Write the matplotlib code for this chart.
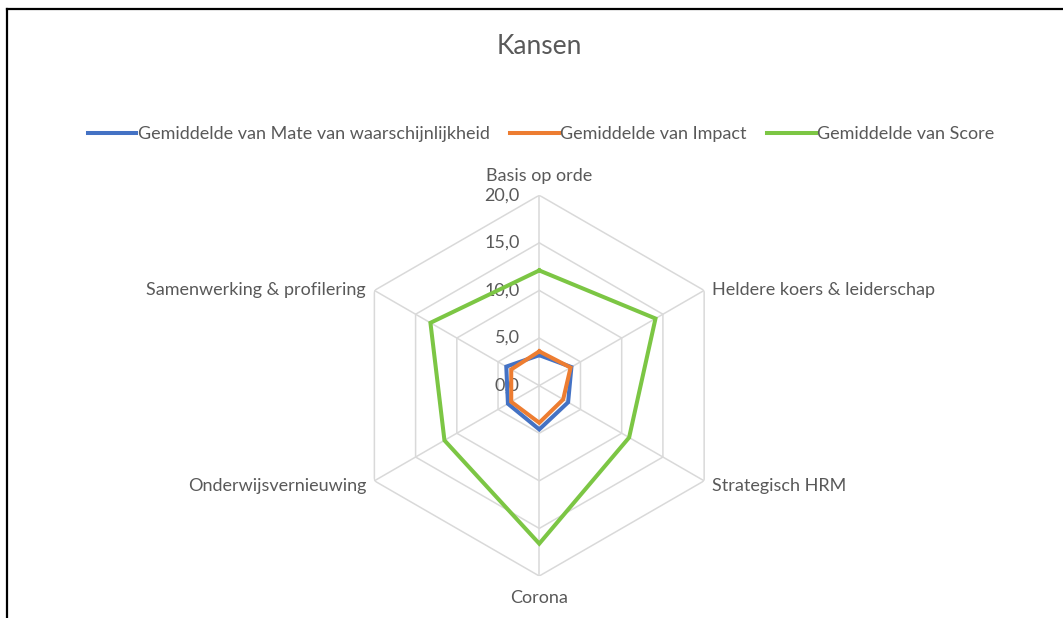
import matplotlib.pyplot as plt
import numpy as np
from matplotlib.lines import Line2D

plt.rcParams['font.family'] = ['Lato', 'DejaVu Sans']

# Data
categories = ['Basis op orde', 'Heldere koers & leiderschap', 'Strategisch HRM',
              'Corona', 'Onderwijsvernieuwing', 'Samenwerking & profilering']
waarschijnlijkheid = [3.2, 3.9, 3.5, 4.6, 3.8, 4.0]
impact = [3.6, 3.8, 2.9, 3.9, 3.4, 3.4]
score = [12.1, 14.1, 10.9, 16.6, 11.5, 13.2]
series_names = ['Gemiddelde van Mate van waarschijnlijkheid',
                'Gemiddelde van Impact', 'Gemiddelde van Score']
r_ticks = [0, 5, 10, 15, 20]

colors = ['#4472C4', '#ED7D31', '#7CC644']
text_color = '#595959'
grid_color = '#D9D9D9'
fs = 13

n = len(categories)
angles = np.linspace(0, 2 * np.pi, n, endpoint=False)
closed = np.append(angles, angles[0])

fig = plt.figure(figsize=(10.63, 6.18), dpi=100)
ax = fig.add_axes([0.3282, 0.0679, 0.3582, 0.6162], projection='polar')
ax.set_theta_offset(np.pi / 2)
ax.set_theta_direction(-1)
ax.set_ylim(0, 20)
ax.grid(False)
ax.spines['polar'].set_visible(False)
ax.set_xticks([])
ax.set_yticks([])
ax.patch.set_alpha(0)

# hexagonal grid and spokes
for r in r_ticks[1:]:
    ax.plot(closed, [r] * (n + 1), color=grid_color, lw=1.1, zorder=1)
for a in angles:
    ax.plot([a, a], [0, 20], color=grid_color, lw=1.1, zorder=1)

# series
for vals, c, name in zip([waarschijnlijkheid, impact, score], colors, series_names):
    ax.plot(closed, vals + vals[:1], color=c, lw=2.9, label=name, zorder=3,
            solid_joinstyle='miter')

# radial tick labels
for r in r_ticks:
    ax.annotate(f'{r:.1f}'.replace('.', ','), xy=(0, r), xytext=(-14, 0),
                textcoords='offset points', ha='right', va='center',
                fontsize=fs, color=text_color, zorder=2)

# category labels
offsets = [(0, 8, 'center', 'bottom'), (6, 0, 'left', 'center'),
           (6, -4, 'left', 'center'), (0, -10, 'center', 'top'),
           (-6, -4, 'right', 'center'), (-6, 0, 'right', 'center')]
for a, lab, (dx, dy, ha, va) in zip(angles, categories, offsets):
    ax.annotate(lab, xy=(a, 20), xytext=(dx, dy), textcoords='offset points',
                ha=ha, va=va, fontsize=fs, color=text_color,
                annotation_clip=False)

fig.text(0.507, 1 - 46 / 618, 'Kansen', ha='center', va='center',
         fontsize=19, color=text_color)

fig.legend(loc='center', bbox_to_anchor=(0.509, 1 - 134 / 618), ncol=3,
           frameon=False, fontsize=fs, handlelength=2.7, handletextpad=0.1,
           columnspacing=1.1, labelcolor=text_color)

# chart frame (left and top edges visible)
fig.add_artist(Line2D([7 / 1063, 7 / 1063], [0, 1 - 9 / 618], color='black', lw=1.6))
fig.add_artist(Line2D([7 / 1063, 1], [1 - 9 / 618, 1 - 9 / 618], color='black', lw=1.6))

fig.savefig('out.png', dpi=100, facecolor='white')
